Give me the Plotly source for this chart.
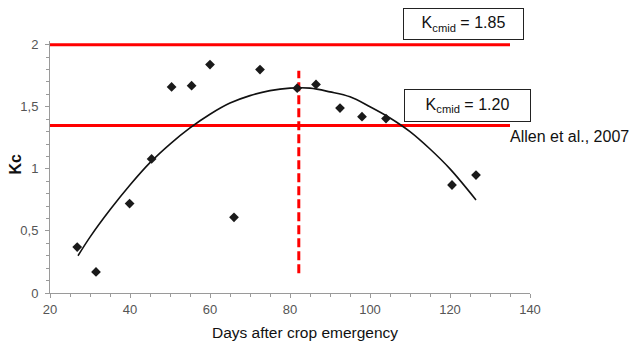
import plotly.graph_objects as go

# Observed Kc values
days = [26.8, 31.5, 39.9, 45.4, 50.4, 55.4, 60.0, 66.0, 72.5, 81.8, 86.5, 92.5, 98.0, 104.0, 120.5, 126.5]
kc = [0.37, 0.17, 0.72, 1.08, 1.66, 1.67, 1.84, 0.61, 1.80, 1.65, 1.68, 1.49, 1.42, 1.405, 0.87, 0.95]

# Fitted curve
fit_days = [27, 30, 35, 40, 45, 50, 55, 60, 65, 70, 75, 80, 85, 90, 95, 100, 105, 110, 115, 120, 126.5]
fit_kc = [0.30, 0.45, 0.67, 0.87, 1.05, 1.20, 1.33, 1.44, 1.53, 1.59, 1.63, 1.65, 1.65, 1.62, 1.58, 1.50, 1.41, 1.30, 1.16, 1.00, 0.75]

# Reference lines
ref_levels = [2.0, 1.35]
ref_x = [20, 135]
peak_day = 82.2
peak_span = [0.16, 1.79]

xtick_vals = [20, 40, 60, 80, 100, 120, 140]
ytick_vals = [0, 0.5, 1, 1.5, 2]
ytick_text = ["0", "0,5", "1", "1,5", "2"]

box_labels = ["K<sub>cmid</sub> = 1.85", "K<sub>cmid</sub> = 1.20"]
source_label = "Allen et al., 2007"

fig = go.Figure()

for lvl in ref_levels:
    fig.add_trace(go.Scatter(x=ref_x, y=[lvl, lvl], mode="lines",
                             line=dict(color="#ff0000", width=3), hoverinfo="skip"))

fig.add_trace(go.Scatter(x=fit_days, y=fit_kc, mode="lines", line_shape="spline",
                         line=dict(color="#111111", width=1.6)))

fig.add_trace(go.Scatter(x=[peak_day, peak_day], y=peak_span, mode="lines",
                         line=dict(color="#ff0000", width=3, dash="9px,4px")))

fig.add_trace(go.Scatter(x=days, y=kc, mode="markers",
                         marker=dict(symbol="diamond", size=7.5, color="#1a1a1a")))

L, R, T, B = 50, 102, 41, 54
W, H = 632, 347
pw, ph = W - L - R, H - T - B

def px(xp):
    return (xp - L) / pw

def py(yp):
    return (H - B - yp) / ph

fig.update_layout(
    width=W, height=H,
    margin=dict(l=L, r=R, t=T, b=B),
    paper_bgcolor="white", plot_bgcolor="white",
    showlegend=False,
    font=dict(family="Liberation Sans, Arial, sans-serif"),
    xaxis=dict(range=[20, 140], tickvals=xtick_vals, showgrid=False, zeroline=False,
               showline=True, linecolor="#9a9a9a", linewidth=1,
               ticks="outside", ticklen=4, tickcolor="#9a9a9a",
               tickfont=dict(size=13, color="#555555"),
               minor=dict(dtick=5, tick0=20, ticks="outside", ticklen=3, tickcolor="#9a9a9a")),
    yaxis=dict(range=[0, 2.03], tickvals=ytick_vals, ticktext=ytick_text, showgrid=False,
               zeroline=False, showline=True, linecolor="#9a9a9a", linewidth=1,
               ticks="outside", ticklen=4, tickcolor="#9a9a9a",
               tickfont=dict(size=13, color="#555555"), ticklabelstandoff=4,
               minor=dict(dtick=0.1, tick0=0, ticks="outside", ticklen=3, tickcolor="#9a9a9a")),
)

fig.add_annotation(text="Days after crop emergency", xref="paper", yref="paper",
                   x=px(305), y=py(333), showarrow=False, xanchor="center", yanchor="middle",
                   font=dict(size=15.5, color="#111111"))
fig.add_annotation(text="<b>Kc</b>", xref="paper", yref="paper", textangle=-90,
                   x=px(14.5), y=py(164), showarrow=False, xanchor="center", yanchor="middle",
                   font=dict(size=16, color="#111111"))

box_centers = [(463.5, 24), (467.5, 105.5)]
box_sizes = [(117, 28), (123, 29)]
for lab, (cx, cy), (bw, bh) in zip(box_labels, box_centers, box_sizes):
    fig.add_annotation(text=lab, xref="paper", yref="paper", x=px(cx), y=py(cy),
                       showarrow=False, xanchor="center", yanchor="middle",
                       width=bw, height=bh, bordercolor="#222222", borderwidth=1,
                       bgcolor="white", align="center",
                       font=dict(size=16, color="#111111"))

fig.add_annotation(text=source_label, xref="paper", yref="paper", x=px(631), y=py(136),
                   showarrow=False, xanchor="right", yanchor="middle",
                   font=dict(size=16, color="#111111"))

fig.write_html("out.html")
